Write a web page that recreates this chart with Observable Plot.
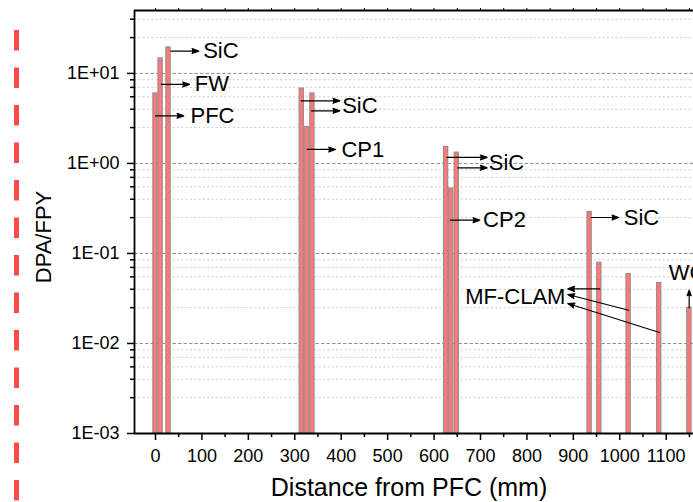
<!DOCTYPE html>
<html>
<head>
<meta charset="utf-8">
<script src="https://cdn.jsdelivr.net/npm/d3@7"></script>
<script src="https://cdn.jsdelivr.net/npm/@observablehq/plot@0.6"></script>
<style>
  html, body { margin: 0; padding: 0; background: white; overflow: hidden; }
  #wrap { position: relative; width: 693px; height: 502px; }
  #wrap svg.plot { max-width: none; }
  #deco { position: absolute; left: 0; top: 0; pointer-events: none; }
</style>
</head>
<body>
<div id="wrap"></div>
<script>
// ---- data ----
const components = ["PFC", "FW", "SiC", "SiC", "CP1", "SiC", "SiC", "CP2", "SiC", "SiC", "MF-CLAM", "MF-CLAM", "MF-CLAM", "WC"];
const distance  = [0, 11, 28, 315, 327, 338, 626, 637, 649, 935, 956, 1019, 1085, 1150]; // mm
const dpaPerFPY = [6.0, 14.7, 19.5, 6.8, 2.55, 6.0, 1.53, 0.527, 1.32, 0.29, 0.079, 0.059, 0.047, 0.025];

// annotation arrows: [x1, y1, x2, y2] in data units (mm, DPA/FPY)
const arrowSegments = [
  [33, 17.7, 93.3, 17.7],
  [12.7, 7.55, 73.2, 7.55],
  [0, 3.38, 61, 3.38],
  [313.8, 4.96, 397, 4.96],
  [336, 3.84, 397, 3.84],
  [326.7, 1.43, 387.7, 1.43],
  [628.3, 1.166, 714.4, 1.166],
  [651, 0.894, 714.4, 0.894],
  [635.4, 0.2344, 698.5, 0.2344],
  [938.4, 0.251, 997.8, 0.251],
  [956.9, 0.0404, 888, 0.0404],
  [1019.4, 0.0234, 888, 0.035],
  [1085.5, 0.01325, 888, 0.0278],
  [1149.5, 0.0249, 1149.5, 0.0391]
];
const labelText   = ["SiC", "FW", "PFC", "SiC", "CP1", "SiC", "CP2", "SiC", "WC"];
const labelX      = [102.7, 84.6, 75.4, 402, 400.6, 717.9, 705.6, 1008.6, 1105.6];
const labelY      = [17.7, 7.55, 3.38, 4.33, 1.43, 1.0, 0.2344, 0.251, 0.0612];
const endLabelText = ["MF-CLAM"];
const endLabelX    = [883];
const endLabelY    = [0.0327];

// ticks
const xMajorTicks = [0, 100, 200, 300, 400, 500, 600, 700, 800, 900, 1000, 1100];
const xMinorTicks = [50, 150, 250, 350, 450, 550, 650, 750, 850, 950, 1050, 1150];
const xTopTicks = [0, 50, 100, 150, 200, 250, 300, 350, 400, 450, 500, 550, 600, 650, 700, 750, 800, 850, 900, 950, 1000, 1050, 1100, 1150];
const yMajorTicks = [0.001, 0.01, 0.1, 1, 10];
const minorMultipliers = [2.5, 4, 5.5, 7, 8.5];
const yMinorTicks = yMajorTicks.flatMap(d => minorMultipliers.map(m => d * m)).filter(v => v < 50);

const xDomain = [-45.2, 1158.8];
const yDomain = [0.001, 50];

const bars = distance.map((d, i) => ({name: components[i], x: d, v: dpaPerFPY[i]}));
const arrows = arrowSegments.map(([x1, y1, x2, y2]) => ({x1, y1, x2, y2}));
const labels = labelText.map((t, i) => ({t, x: labelX[i], y: labelY[i]}));
const endLabels = endLabelText.map((t, i) => ({t, x: endLabelX[i], y: endLabelY[i]}));

const halfW = 4.65;
const fmt = d => {
  const e = Math.round(Math.log10(d));
  return "1E" + (e < 0 ? "-" : "+") + String(Math.abs(e)).padStart(2, "0");
};

const chart = Plot.plot({
  width: 693,
  height: 502,
  marginLeft: 134,
  marginRight: 0,
  marginTop: 10,
  marginBottom: 69,
  style: {fontFamily: "'Liberation Sans', Arial, sans-serif", fontSize: "18px", color: "black", background: "white"},
  x: {domain: xDomain, axis: null},
  y: {type: "log", domain: yDomain, axis: null},
  marks: [
    Plot.ruleY(yMinorTicks, {stroke: "#cccccc", strokeWidth: 1, strokeDasharray: "2,2.3"}),
    Plot.ruleY(yMajorTicks, {stroke: "#909090", strokeWidth: 1, strokeDasharray: "3.5,2"}),
    Plot.rect(bars, {x1: d => d.x - halfW, x2: d => d.x + halfW, y1: yDomain[0], y2: "v",
      fill: "#ff7878", stroke: "#8c8c8c", strokeWidth: 1}),
    Plot.arrow(arrows, {x1: "x1", y1: "y1", x2: "x2", y2: "y2", stroke: "black", fill: "black",
      strokeWidth: 1.2, headLength: 9, headAngle: 40}),
    Plot.text(labels, {x: "x", y: "y", text: "t", textAnchor: "start", fontSize: 22, fill: "black"}),
    Plot.text(endLabels, {x: "x", y: "y", text: "t", textAnchor: "end", fontSize: 22, fill: "black"}),
    Plot.axisY({ticks: yMajorTicks, tickSize: 7, tickPadding: 8, tickFormat: fmt, label: null, fontSize: 18, strokeWidth: 1.5}),
    Plot.axisY({ticks: yMinorTicks, tickSize: 4, tickFormat: () => "", label: null, strokeWidth: 1.5}),
    Plot.axisX({ticks: xMajorTicks, tickSize: 7, tickPadding: 9, tickFormat: d => String(d), label: null, fontSize: 18, strokeWidth: 1.5}),
    Plot.axisX({ticks: xMinorTicks, tickSize: 4, tickFormat: () => "", label: null, strokeWidth: 1.5}),
    Plot.axisX({anchor: "top", ticks: xTopTicks, tickSize: 3, tickFormat: () => "", label: null, strokeWidth: 1}),
    Plot.ruleY([yDomain[0]], {stroke: "black", strokeWidth: 1.8}),
    Plot.ruleY([yDomain[1]], {stroke: "black", strokeWidth: 1.8}),
    Plot.ruleX([xDomain[0]], {stroke: "black", strokeWidth: 1.8}),
    Plot.text(["Distance from PFC (mm)"], {frameAnchor: "bottom", dx: -5, dy: 62, fontSize: 25, textAnchor: "middle", fill: "black"}),
    Plot.text(["DPA/FPY"], {frameAnchor: "left", dx: -91, dy: 15, rotate: -90, fontSize: 22, textAnchor: "middle", fill: "black"})
  ]
});
document.getElementById("wrap").appendChild(chart);

// decorative red dashed border at the left edge
const ns = "http://www.w3.org/2000/svg";
const deco = document.createElementNS(ns, "svg");
deco.setAttribute("id", "deco");
deco.setAttribute("width", 693);
deco.setAttribute("height", 502);
const ln = document.createElementNS(ns, "line");
ln.setAttribute("x1", 16.5); ln.setAttribute("x2", 16.5);
ln.setAttribute("y1", 30); ln.setAttribute("y2", 502);
ln.setAttribute("stroke", "#ff4a4a");
ln.setAttribute("stroke-width", 5);
ln.setAttribute("stroke-dasharray", "20.5,17");
deco.appendChild(ln);
document.getElementById("wrap").appendChild(deco);
</script>
</body>
</html>
